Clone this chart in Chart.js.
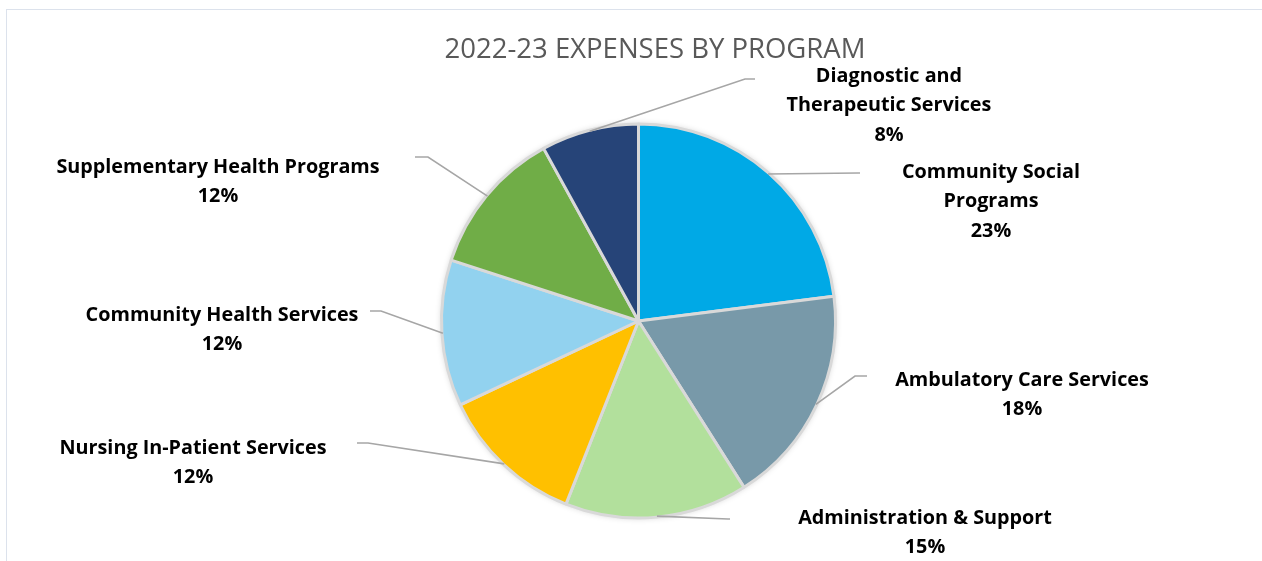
<!DOCTYPE html>
<html>
<head>
<meta charset="utf-8">
<script src="https://cdn.jsdelivr.net/npm/chart.js@4"></script>
<style>
  html, body { margin: 0; padding: 0; background: #fff; overflow: hidden; }
  #wrap { position: relative; width: 1262px; height: 561px; }
  #frame { position: absolute; left: 6px; top: 9px; width: 1300px; height: 600px; border: 1px solid #dce2ec; }
  canvas { position: absolute; left: 0; top: 0; }
</style>
</head>
<body>
<div id="wrap">
  <div id="frame"></div>
  <canvas id="pie" width="1262" height="561"></canvas>
</div>
<script>
// Données du graphique
const categories = [
  'Community Social Programs',
  'Ambulatory Care Services',
  'Administration & Support',
  'Nursing In-Patient Services',
  'Community Health Services',
  'Supplementary Health Programs',
  'Diagnostic and Therapeutic Services'
];
const values = [23, 18, 15, 12, 12, 12, 8];
const colors = ['#00a9e6', '#7899a9', '#b2e09c', '#ffc000', '#92d2ef', '#70ad47', '#264478'];
// Lignes des étiquettes (comme dans Excel, avec retours à la ligne)
const labelLines = [
  ['Community Social', 'Programs'],
  ['Ambulatory Care Services'],
  ['Administration & Support'],
  ['Nursing In-Patient Services'],
  ['Community Health Services'],
  ['Supplementary Health Programs'],
  ['Diagnostic and', 'Therapeutic Services']
];
const chartTitle = '2022-23 EXPENSES BY PROGRAM';

// Placement des étiquettes : centre du texte (x, y de la 1re ligne) et coude de la ligne de rappel
const labelLayout = [
  { x: 991, y: 172, elbow: [858, 173], end: [860, 173] },
  { x: 1022, y: 380, elbow: [855, 376], end: [867, 376] },
  { x: 925, y: 518, elbow: [728, 519], end: [730, 519] },
  { x: 193, y: 448, elbow: [368, 443], end: [357, 443] },
  { x: 222, y: 315, elbow: [381, 311], end: [370, 311] },
  { x: 218, y: 167, elbow: [428, 157], end: [415, 157] },
  { x: 889, y: 76, elbow: [745, 79], end: [755, 79] }
];

const LABEL_FONT = 'bold 19.8px "Open Sans", Lato, sans-serif';
const LINE_H = 29.5;

// --- Ombre légère sous le camembert ---
const shadowPlugin = {
  id: 'pieShadow',
  beforeDatasetsDraw(chart) {
    const arc = chart.getDatasetMeta(0).data[0];
    if (!arc) return;
    const ctx = chart.ctx;
    ctx.save();
    ctx.shadowColor = 'rgba(0,0,0,0.28)';
    ctx.shadowBlur = 7;
    ctx.beginPath();
    ctx.arc(arc.x, arc.y, arc.outerRadius - 1, 0, Math.PI * 2);
    ctx.fillStyle = '#ffffff';
    ctx.fill();
    ctx.restore();
  }
};

// --- Titre + étiquettes avec lignes de rappel ---
const labelPlugin = {
  id: 'excelLabels',
  afterDatasetsDraw(chart) {
    const ctx = chart.ctx;
    const meta = chart.getDatasetMeta(0);

    ctx.save();
    // titre
    ctx.font = '27.5px "Open Sans", Lato, sans-serif';
    ctx.fillStyle = '#595959';
    ctx.textAlign = 'center';
    ctx.textBaseline = 'middle';
    ctx.fillText(chartTitle, 655, 50);

    meta.data.forEach((arc, i) => {
      const lay = labelLayout[i];
      const mid = (arc.startAngle + arc.endAngle) / 2;
      const sx = arc.x + Math.cos(mid) * (arc.outerRadius - 1);
      const sy = arc.y + Math.sin(mid) * (arc.outerRadius - 1);

      ctx.beginPath();
      ctx.moveTo(sx, sy);
      ctx.lineTo(lay.elbow[0], lay.elbow[1]);
      ctx.lineTo(lay.end[0], lay.end[1]);
      ctx.strokeStyle = '#a6a6a6';
      ctx.lineWidth = 1.6;
      ctx.stroke();

      const lines = labelLines[i].concat([values[i] + '%']);
      ctx.font = LABEL_FONT;
      ctx.fillStyle = '#000000';
      lines.forEach((t, k) => ctx.fillText(t, lay.x, lay.y + k * LINE_H));
    });
    ctx.restore();
  }
};

const BW = 3;
new Chart(document.getElementById('pie'), {
  type: 'pie',
  data: {
    labels: categories,
    datasets: [{
      data: values,
      backgroundColor: colors,
      borderColor: '#d9d9d9',
      borderWidth: BW,
      hoverOffset: 0
    }]
  },
  options: {
    responsive: false,
    animation: false,
    layout: { padding: { top: 122.5, bottom: 41.5, left: 439.5, right: 424.5 } },
    plugins: {
      legend: { display: false },
      tooltip: { enabled: false },
      title: { display: false }
    }
  },
  plugins: [shadowPlugin, labelPlugin]
});
</script>
</body>
</html>
